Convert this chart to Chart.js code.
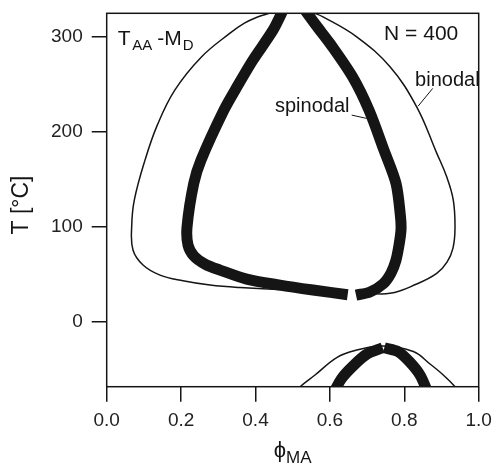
<!DOCTYPE html>
<html>
<head>
<meta charset="utf-8">
<script src="https://cdn.jsdelivr.net/npm/chart.js@4.4.1/dist/chart.umd.min.js"></script>
<style>
  html, body { margin: 0; padding: 0; background: #fff; }
</style>
</head>
<body>
<canvas id="phaseDiagram" width="494" height="467"></canvas>
<script>
// [phi_MA, T in °C] pairs, one array per drawn segment
const spinodalTopLeft = [[0.482, 335.3], [0.474, 327.9], [0.447, 306.8], [0.393, 275.3], [0.353, 249.0],
  [0.315, 222.6], [0.2535, 170.0], [0.234, 145.5], [0.216, 99.8], [0.2186, 80.5], [0.2347, 68.9],
  [0.2642, 60.5], [0.3046, 54.2], [0.3763, 44.7], [0.4659, 38.4], [0.5546, 33.2], [0.6478, 28.2]];
const spinodalTopRight = [[0.6702, 27.9], [0.7078, 31.1], [0.7427, 39.5], [0.7642, 51.1], [0.7777, 64.7],
  [0.7858, 80.5], [0.7911, 96.3], [0.7898, 110.3], [0.7777, 145.5], [0.7454, 180.5], [0.7051, 222.6],
  [0.6608, 257.7], [0.6003, 292.8], [0.5626, 312.1], [0.5296, 329.7], [0.5188, 335.3]];
const spinodalLowLeft = [[0.6083, -76.3], [0.6317, -59.8], [0.6629, -46.5], [0.6989, -34.5], [0.7419, -27.6]];
const spinodalLowRight = [[0.7462, -27.6], [0.7839, -31.8], [0.8153, -42.9], [0.8422, -56.3], [0.8651, -76.3]];

const binodalTopLeft = [[0.4981, 336.3], [0.4363, 324.7], [0.404, 320.5], [0.3702, 314.2], [0.3315, 303.7],
  [0.254, 278.4], [0.183, 243.7], [0.136, 206.8], [0.103, 170.0], [0.0742, 127.9], [0.0672, 100.5],
  [0.0707, 75.3], [0.0976, 59.5], [0.1433, 48.9], [0.2051, 42.9], [0.2777, 38.4], [0.3583, 35.8],
  [0.52, 32.6], [0.6406, 31.1]];
const binodalTopRight = [[0.6809, 30.5], [0.7616, 29.7], [0.8333, 39.5], [0.8871, 50.7], [0.9148, 62.6],
  [0.9309, 77.4], [0.9363, 98.4], [0.9317, 127.9], [0.914, 152.4], [0.8871, 177.4], [0.8333, 226.1],
  [0.7616, 268.2], [0.672, 299.8], [0.5815, 320.8], [0.5519, 325.8], [0.4981, 336.3]];
const binodalLow = [[0.5089, -74.2], [0.5199, -68.6], [0.56, -56.3], [0.6183, -37.9], [0.6675, -30.5],
  [0.7427, -25.8], [0.8242, -31.6], [0.8691, -44.7], [0.9048, -56.3], [0.9363, -68.6], [0.9444, -74.2]];

const phiTicks = [0, 0.2, 0.4, 0.6, 0.8, 1.0];
const tempTicks = [0, 100, 200, 300];

const FONT = "'Liberation Sans', Arial, Helvetica, sans-serif";
const INK = '#151515';

function toPoints(arr) {
  return arr.map(p => ({ x: p[0], y: p[1] }));
}

function curve(arr, width, tension) {
  return {
    data: toPoints(arr),
    showLine: true,
    borderColor: INK,
    borderWidth: width,
    borderJoinStyle: 'round',
    pointRadius: 0,
    tension: tension,
    fill: false
  };
}

const datasets = [
  curve(spinodalTopLeft, 11, 0.3),
  curve(spinodalTopRight, 11, 0.3),
  curve(spinodalLowLeft, 11, 0.3),
  curve(spinodalLowRight, 11, 0.3),
  curve(binodalTopLeft, 1.5, 0.4),
  curve(binodalTopRight, 1.5, 0.4),
  curve(binodalLow, 1.5, 0.4)
];

// frame, in-plot labels, axis titles
const phaseLabels = {
  id: 'phaseLabels',
  afterDraw(chart) {
    const { ctx, chartArea: a, scales: { x, y } } = chart;
    ctx.save();

    ctx.strokeStyle = INK;
    ctx.lineWidth = 1.5;
    ctx.strokeRect(a.left, a.top, a.right - a.left, a.bottom - a.top);

    ctx.fillStyle = INK;
    ctx.textBaseline = 'alphabetic';

    // T_AA-M_D
    let px = x.getPixelForValue(0.030);
    const py = y.getPixelForValue(291.1);
    const parts = [['T', 21, 0, 1.5], ['AA', 15, 5, 5], ['-M', 21, 0, 1], ['D', 15, 5, 0]];
    parts.forEach(([s, size, dy, gap]) => {
      ctx.font = size + 'px ' + FONT;
      ctx.textAlign = 'left';
      ctx.fillText(s, px, py + dy);
      px += ctx.measureText(s).width + gap;
    });

    ctx.font = '21px ' + FONT;
    ctx.textAlign = 'right';
    ctx.fillText('N = 400', x.getPixelForValue(0.945), y.getPixelForValue(296.3));

    ctx.font = '20px ' + FONT;
    ctx.textAlign = 'left';
    ctx.fillText('binodal', x.getPixelForValue(0.829), y.getPixelForValue(247.9));
    ctx.fillText('spinodal', x.getPixelForValue(0.4524), y.getPixelForValue(220.8));

    ctx.lineWidth = 1;
    ctx.beginPath();
    ctx.moveTo(x.getPixelForValue(0.8763), y.getPixelForValue(245.5));
    ctx.lineTo(x.getPixelForValue(0.8371), y.getPixelForValue(226.8));
    ctx.moveTo(x.getPixelForValue(0.6586), y.getPixelForValue(217.4));
    ctx.lineTo(x.getPixelForValue(0.6989), y.getPixelForValue(213.9));
    ctx.stroke();

    // y title
    ctx.save();
    ctx.translate(a.left - 85, (a.top + a.bottom) / 2 + 5);
    ctx.rotate(-Math.PI / 2);
    ctx.font = '23px ' + FONT;
    ctx.textAlign = 'center';
    ctx.textBaseline = 'middle';
    ctx.fillText('T [°C]', 0, 0);
    ctx.restore();

    // x title: phi with MA subscript
    ctx.font = '22px ' + FONT;
    const wPhi = ctx.measureText('ϕ').width;
    ctx.font = '17px ' + FONT;
    const wSub = ctx.measureText('MA').width;
    const cx = (a.left + a.right) / 2;
    const startX = cx - (wPhi + wSub) / 2;
    ctx.textAlign = 'left';
    ctx.font = '22px ' + FONT;
    ctx.fillText('ϕ', startX, a.bottom + 70);
    ctx.font = '17px ' + FONT;
    ctx.fillText('MA', startX + wPhi, a.bottom + 76);

    ctx.restore();
  }
};

new Chart(document.getElementById('phaseDiagram'), {
  type: 'scatter',
  data: { datasets: datasets },
  options: {
    responsive: false,
    animation: false,
    layout: { padding: { left: 0, top: 13.3, right: 15.3, bottom: 0 } },
    plugins: { legend: { display: false }, tooltip: { enabled: false } },
    scales: {
      x: {
        type: 'linear',
        min: 0,
        max: 1,
        afterBuildTicks: s => { s.ticks = phiTicks.map(v => ({ value: v })); },
        afterFit: s => {
          s.height = 80.3;
          s.paddingLeft = 0;
          s.paddingRight = 0;
        },
        border: { display: false },
        grid: { drawOnChartArea: false, drawTicks: true, tickLength: 15, color: INK, lineWidth: 1.5 },
        ticks: {
          padding: 8, color: '#222', font: { family: FONT, size: 19 },
          maxRotation: 0, autoSkip: false,
          callback: v => Number(v).toFixed(1)
        }
      },
      y: {
        type: 'linear',
        min: -68.6,
        max: 324.6,
        afterBuildTicks: s => { s.ticks = tempTicks.map(v => ({ value: v })); },
        afterFit: s => {
          s.width = 106.7;
          s.paddingTop = 0;
          s.paddingBottom = 0;
        },
        border: { display: false },
        grid: { drawOnChartArea: false, drawTicks: true, tickLength: 15, color: INK, lineWidth: 1.5 },
        ticks: { padding: 9, color: '#222', font: { family: FONT, size: 19 } }
      }
    }
  },
  plugins: [phaseLabels]
});
</script>
</body>
</html>
